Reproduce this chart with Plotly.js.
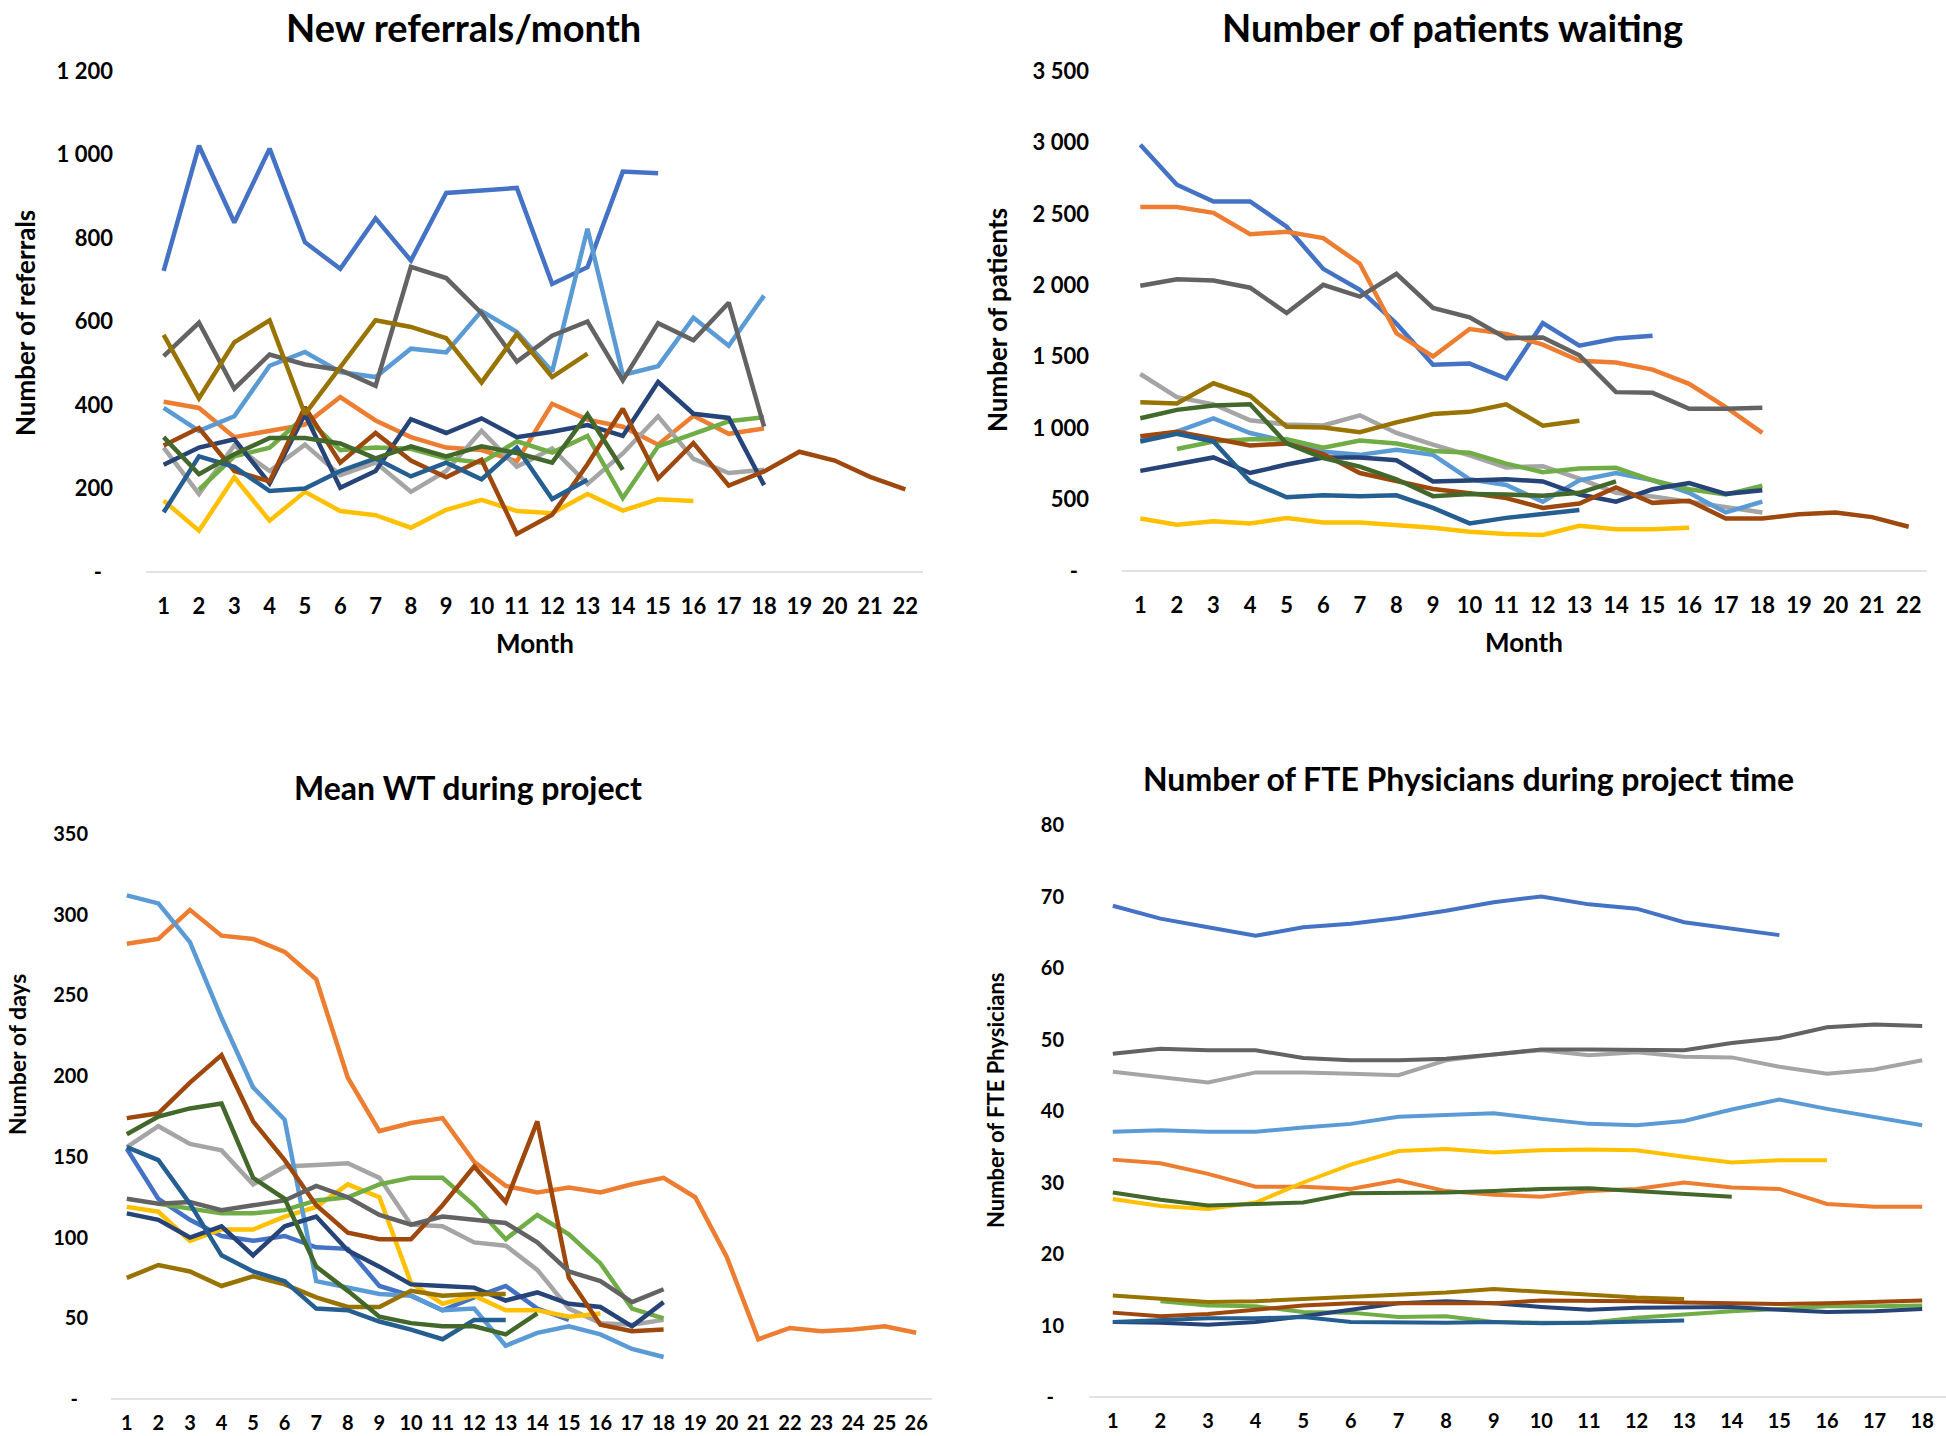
<!DOCTYPE html>
<html>
<head>
<meta charset="utf-8">
<script src="https://cdn.plot.ly/plotly-3.0.1.min.js"></script>
<style>
  body { margin: 0; background: #fff; }
  #chart { width: 1946px; height: 1436px; }
</style>
</head>
<body>
<div id="chart"></div>
<script>
// Excel default palette, one colour per hospital/series
var seriesColors = ["#4472C4", "#ED7D31", "#A5A5A5", "#FFC000", "#5B9BD5", "#70AD47",
                    "#264478", "#9E480E", "#636363", "#997300", "#255E91", "#43682B"];

// New referrals / month
var referrals = [
    [721, 1021, 837, 1014, 790, 726, 847, 746, 908, 915, 920, 690, 730, 959, 955],
    [408, 393, 323, 338, 353, 419, 363, 323, 298, 292, 265, 403, 365, 348, 305, 374, 331, 344],
    [298, 187, 303, 242, 305, 232, 262, 192, 242, 338, 252, 296, 211, 284, 373, 271, 237, 245],
    [171, 99, 227, 123, 192, 146, 136, 106, 149, 173, 146, 141, 187, 147, 174, 170],
    [393, 338, 373, 494, 527, 479, 467, 535, 526, 625, 575, 480, 822, 472, 493, 609, 542, 662],
    [null, 197, 277, 298, 373, 292, 298, 295, 272, 262, 313, 286, 326, 177, 301, 331, 361, 371],
    [257, 298, 318, 212, 378, 202, 242, 366, 333, 368, 323, 336, 352, 326, 455, 379, 369, 208],
    [303, 345, 242, 217, 395, 262, 333, 267, 227, 269, 91, 137, 258, 391, 224, 309, 207, 241, 288, 267, 228, 198],
    [517, 597, 439, 521, 497, 484, 446, 731, 704, 620, 504, 566, 600, 459, 596, 555, 645, 348],
    [568, 416, 550, 603, 378, 489, 603, 587, 560, 454, 570, 467, 523],
    [143, 277, 252, 194, 200, 242, 272, 229, 262, 222, 298, 175, 221],
    [323, 234, 282, 321, 321, 308, 272, 301, 277, 301, 285, 262, 378, 245]
];

// Number of patients waiting
var waiting = [
    [2984, 2704, 2587, 2587, 2410, 2115, 1968, 1732, 1444, 1452, 1347, 1735, 1577, 1627, 1647],
    [2548, 2548, 2507, 2357, 2374, 2330, 2151, 1664, 1502, 1694, 1660, 1584, 1472, 1460, 1410, 1310, 1147, 967],
    [1379, 1217, 1167, 1055, 1025, 1019, 1090, 966, 884, 810, 725, 734, 647, 547, 522, 485, 447, 410],
    [368, 324, 348, 333, 371, 339, 339, 318, 303, 274, 259, 252, 317, 292, 292, 302],
    [913, 975, 1069, 966, 907, 834, 813, 848, 813, 642, 602, 485, 635, 685, 635, 547, 410, 485],
    [null, 854, 907, 922, 922, 863, 913, 893, 840, 828, 752, 692, 717, 722, 635, 572, 535, 597],
    [701, 745, 795, 686, 745, 795, 795, 775, 627, 633, 642, 627, 535, 485, 572, 615, 540, 565],
    [943, 975, 928, 878, 893, 819, 686, 633, 574, 545, 510, 442, 472, 585, 477, 492, 367, 367, 397, 410, 377, 310],
    [1997, 2042, 2033, 1983, 1806, 2003, 1921, 2080, 1841, 1776, 1630, 1635, 1510, 1252, 1247, 1135, 1135, 1142],
    [1181, 1173, 1314, 1226, 1010, 1005, 972, 1040, 1099, 1114, 1167, 1017, 1052],
    [907, 960, 907, 627, 516, 530, 524, 530, 442, 333, 372, 397, 427],
    [1069, 1128, 1158, 1167, 893, 790, 731, 642, 524, 539, 535, 527, 547, 627]
];

// Mean waiting time (days)
var meanWT = [
    [155, 124, 111, 101, 98, 101, 94, 93, 70, 64, 55, 63, 70, 56, 49],
    [282, 285, 303, 287, 285, 277, 260, 199, 166, 171, 174, 147, 132, 128, 131, 128, 133, 137, 125, 88, 37, 44, 42, 43, 45, 41],
    [156, 169, 158, 154, 133, 144, 145, 146, 137, 108, 107, 97, 95, 80, 56, 47, 46, 49],
    [119, 116, 98, 105, 105, 113, 119, 133, 125, 72, 59, 64, 55, 55, 51, 53],
    [312, 307, 283, 236, 193, 173, 73, 69, 65, 64, 55, 56, 33, 41, 45, 40, 31, 26],
    [null, 121, 118, 115, 115, 117, 123, 125, 133, 137, 137, 120, 99, 114, 102, 84, 56, 50],
    [115, 111, 100, 107, 89, 107, 113, 92, 82, 71, 70, 69, 61, 66, 59, 57, 45, 60],
    [174, 177, 196, 213, 172, 148, 120, 103, 99, 99, 120, 144, 122, 172, 75, 46, 42, 43],
    [124, 121, 122, 117, 120, 123, 132, 125, 114, 108, 113, 111, 109, 97, 79, 73, 60, 68],
    [75, 83, 79, 70, 76, 71, 63, 57, 57, 67, 64, 65, 65],
    [156, 148, 121, 89, 79, 73, 56, 55, 48, 43, 37, 49, 49],
    [164, 175, 180, 183, 137, 124, 82, 67, 51, 47, 45, 45, 40, 53]
];

// FTE physicians
var fte = [
    [68.7, 66.9, 65.7, 64.5, 65.7, 66.2, 67.0, 68.0, 69.2, 70.0, 68.9, 68.3, 66.4, 65.5, 64.6],
    [33.2, 32.7, 31.2, 29.4, 29.4, 29.1, 30.3, 28.8, 28.3, 28.0, 28.8, 29.1, 30.0, 29.3, 29.1, 27.0, 26.6, 26.6],
    [45.5, 44.7, 44.0, 45.4, 45.4, 45.2, 45.0, 47.1, 47.9, 48.5, 47.8, 48.2, 47.6, 47.5, 46.2, 45.2, 45.8, 47.1],
    [27.7, 26.7, 26.3, 27.2, 30.0, 32.5, 34.4, 34.7, 34.2, 34.5, 34.6, 34.5, 33.6, 32.8, 33.1, 33.1],
    [37.1, 37.3, 37.1, 37.1, 37.7, 38.2, 39.2, 39.4, 39.7, 38.9, 38.2, 38.0, 38.6, 40.2, 41.6, 40.3, 39.2, 38.0],
    [null, 13.4, 12.8, 12.7, 11.9, 11.8, 11.2, 11.3, 10.5, 10.4, 10.4, 11.1, 11.6, 12.0, 12.3, 12.7, 12.7, 12.8],
    [10.5, 10.4, 10.1, 10.5, 11.3, 12.2, 13.1, 13.4, 13.1, 12.6, 12.2, 12.5, 12.6, 12.6, 12.2, 11.9, 12.0, 12.3],
    [11.8, 11.3, 11.6, 12.2, 12.8, 13.1, 13.1, 13.1, 13.1, 13.5, 13.5, 13.4, 13.2, 13.1, 13.0, 13.1, 13.3, 13.5],
    [48.0, 48.7, 48.5, 48.5, 47.4, 47.1, 47.1, 47.3, 47.9, 48.6, 48.6, 48.6, 48.5, 49.5, 50.2, 51.7, 52.1, 51.9],
    [14.2, 13.7, 13.3, 13.4, 13.7, 14.0, 14.3, 14.6, 15.1, 14.7, 14.2, 13.9, 13.7],
    [10.5, 10.8, 11.0, 11.0, 11.2, 10.5, 10.4, 10.4, 10.5, 10.3, 10.4, 10.6, 10.7],
    [28.6, 27.6, 26.8, 27.0, 27.2, 28.5, 28.5, 28.6, 28.8, 29.1, 29.2, 28.8, 28.5, 28.0]
];

// y tick labels as Excel shows them (zero drawn as a dash)
var refTicks = [0, 200, 400, 600, 800, 1000, 1200];
var refTickText = ["-\u2002", "200", "400", "600", "800", "1 000", "1 200"];
var waitTicks = [0, 500, 1000, 1500, 2000, 2500, 3000, 3500];
var waitTickText = ["-\u2002", "500", "1 000", "1 500", "2 000", "2 500", "3 000", "3 500"];
var wtTicks = [0, 50, 100, 150, 200, 250, 300, 350];
var wtTickText = ["-\u2002", "50", "100", "150", "200", "250", "300", "350"];
var fteTicks = [0, 10, 20, 30, 40, 50, 60, 70, 80];
var fteTickText = ["-\u2002", "10", "20", "30", "40", "50", "60", "70", "80"];

var W = 1946, H = 1436;
var textFont = "Lato, Carlito, sans-serif";

function months(n) {
    var m = [];
    for (let i = 1; i <= n; i++) m.push(i);
    return m;
}

function make_traces(values, axisId, width) {
    var traces = [];
    for (let i = 0; i < values.length; i++) {
        traces.push({
            type: "scatter",
            mode: "lines",
            x: months(values[i].length),
            y: values[i],
            xaxis: "x" + axisId,
            yaxis: "y" + axisId,
            line: {color: seriesColors[i], width: width},
            hoverinfo: "skip"
        });
    }
    return traces;
}

function x_axis(left, right, nMonths, fontSize, standoff, anchor) {
    return {
        domain: [left / W, right / W],
        range: [0.5, nMonths + 0.5],
        tickvals: months(nMonths),
        ticktext: months(nMonths).map(String),
        showgrid: false,
        zeroline: false,
        showline: false,
        ticks: "",
        ticklabelstandoff: standoff,
        tickfont: {family: textFont, size: fontSize, color: "#000", weight: "bold"},
        anchor: anchor,
        fixedrange: true
    };
}

function y_axis(bottom, top, maxVal, vals, text, fontSize, standoff, anchor) {
    return {
        domain: [1 - bottom / H, 1 - top / H],
        range: [0, maxVal],
        tickvals: vals,
        ticktext: text,
        showgrid: false,
        zeroline: false,
        showline: false,
        ticks: "",
        ticklabelstandoff: standoff,
        tickfont: {family: textFont, size: fontSize, color: "#000", weight: "bold"},
        anchor: anchor,
        fixedrange: true
    };
}

// the light grey category axis line at value 0
function base_line(left, right, y) {
    return {
        type: "line", xref: "paper", yref: "paper",
        x0: left / W, x1: right / W, y0: 1 - y / H, y1: 1 - y / H,
        line: {color: "#D9D9D9", width: 1.5}
    };
}

function label(text, px, py, size, angle) {
    return {
        text: "<b>" + text + "</b>",
        xref: "paper", yref: "paper",
        x: px / W, y: 1 - py / H,
        xanchor: "center", yanchor: "middle",
        showarrow: false,
        textangle: angle || 0,
        font: {family: textFont, size: size, color: "#000"}
    };
}

var data = []
    .concat(make_traces(referrals, "", 4.5))
    .concat(make_traces(waiting, "2", 4.5))
    .concat(make_traces(meanWT, "3", 4.5))
    .concat(make_traces(fte, "4", 4));

var layout = {
    width: W,
    height: H,
    margin: {l: 0, r: 0, t: 0, b: 0},
    paper_bgcolor: "#fff",
    plot_bgcolor: "rgba(0,0,0,0)",
    showlegend: false,
    xaxis: x_axis(146, 923, 22, 22, 19, "y"),
    yaxis: y_axis(572, 71, 1200, refTicks, refTickText, 22, 32, "x"),
    xaxis2: x_axis(1122, 1927, 22, 22, 19, "y2"),
    yaxis2: y_axis(571, 71, 3500, waitTicks, waitTickText, 22, 32, "x2"),
    xaxis3: x_axis(111, 932, 26, 20, 10, "y3"),
    yaxis3: y_axis(1399, 834, 350, wtTicks, wtTickText, 20, 22, "x3"),
    xaxis4: x_axis(1089, 1946, 18, 20, 10, "y4"),
    yaxis4: y_axis(1397, 825, 80, fteTicks, fteTickText, 20, 24, "x4"),
    shapes: [
        base_line(146, 923, 572),
        base_line(1122, 1927, 571),
        base_line(111, 932, 1399),
        base_line(1089, 1946, 1397)
    ],
    annotations: [
        label("New referrals/month", 463, 27, 38),
        label("Number of patients waiting", 1452, 27, 38),
        label("Mean WT during project", 468, 787, 32),
        label("Number of FTE Physicians during project time", 1468, 778, 32),
        label("Number of referrals", 25, 323, 26, -90),
        label("Number of patients", 997, 320, 26, -90),
        label("Number of days", 17, 1055, 23, -90),
        label("Number of FTE Physicians", 995, 1100, 22, -90),
        label("Month", 535, 643, 26),
        label("Month", 1524, 642, 26)
    ]
};

Plotly.newPlot("chart", data, layout, {staticPlot: true});
</script>
</body>
</html>
